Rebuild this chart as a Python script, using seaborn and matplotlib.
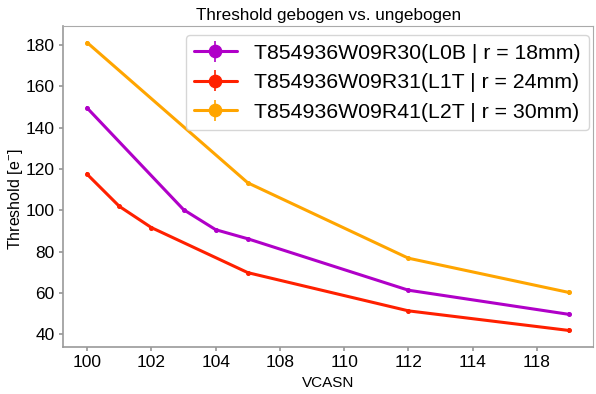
import matplotlib
matplotlib.use("Agg")
import matplotlib.pyplot as plt
import seaborn as sns
import pandas as pd
from matplotlib.legend_handler import HandlerTuple

# VCASN settings (axis units) and measured thresholds per sensor
vcasn_l0b = [100, 103, 104, 105, 110, 115]
thr_l0b = [149.5, 100.3, 90.6, 86.2, 61.3, 49.6]

vcasn_l1t = [100, 101, 102, 105, 110, 115]
thr_l1t = [117.4, 101.9, 91.6, 69.8, 51.3, 41.8]

vcasn_l2t = [100, 105, 110, 115]
thr_l2t = [181.2, 113.3, 76.8, 60.2]

labels = [
    "T854936W09R30(L0B | r = 18mm)",
    "T854936W09R31(L1T | r = 24mm)",
    "T854936W09R41(L2T | r = 30mm)",
]
colors = ["#b000c8", "#ff2000", "#ffa500"]

tick_pos = [100, 102, 104, 106, 108, 110, 112, 114]
tick_labels = ["100", "102", "104", "108", "110", "112", "114", "118"]

sns.set_theme(style="white")
plt.rcParams["font.family"] = ["Liberation Sans", "DejaVu Sans"]
plt.rcParams["mathtext.default"] = "regular"
plt.rcParams["text.color"] = "black"
plt.rcParams["axes.labelcolor"] = "black"
plt.rcParams["xtick.color"] = "black"
plt.rcParams["ytick.color"] = "black"

frames = []
for lab, xs, ys in zip(labels, [vcasn_l0b, vcasn_l1t, vcasn_l2t],
                       [thr_l0b, thr_l1t, thr_l2t]):
    frames.append(pd.DataFrame({"VCASN": xs, "Threshold": ys, "Sensor": lab}))
df = pd.concat(frames, ignore_index=True)

fig = plt.figure(figsize=(5.96, 3.94), dpi=100)
ax = fig.add_axes([0.106, 0.119, 0.889, 0.815])

sns.lineplot(data=df, x="VCASN", y="Threshold", hue="Sensor",
             palette=dict(zip(labels, colors)), linewidth=2.2,
             legend=False, ax=ax, sort=False)

handles = []
for line, lab, col in zip(ax.get_lines(), labels, colors):
    sub = df[df["Sensor"] == lab]
    eb = ax.errorbar(sub["VCASN"], sub["Threshold"], yerr=1.0, fmt="o",
                     ms=2.6, color=col, elinewidth=1.2, capsize=0)
    handles.append((line, eb))

ax.legend(handles, labels, handler_map={tuple: HandlerTuple(ndivide=1)},
          loc="upper right", bbox_to_anchor=(1.0, 0.985), fontsize=15.3,
          markerscale=3.4, borderaxespad=0.2, framealpha=0.8,
          edgecolor="#cccccc")

ax.set_xticks(tick_pos)
ax.set_xticklabels(tick_labels)
ax.tick_params(axis="both", labelsize=12.5, length=3, color="#999999",
               bottom=True, left=True, pad=3)
ax.set_xlabel("VCASN", fontsize=11)
ax.set_ylabel("Threshold [e$^{-}$]", fontsize=11.5)
ax.yaxis.set_label_coords(-0.072, 0.46)
ax.set_title("Threshold gebogen vs. ungebogen", fontsize=12.3, pad=4)

for side in ["left", "bottom"]:
    ax.spines[side].set_color("#999999")
    ax.spines[side].set_linewidth(1.2)
for side in ["top", "right"]:
    ax.spines[side].set_color("#aaaaaa")
    ax.spines[side].set_linewidth(0.8)

fig.savefig("out.png", dpi=100)
